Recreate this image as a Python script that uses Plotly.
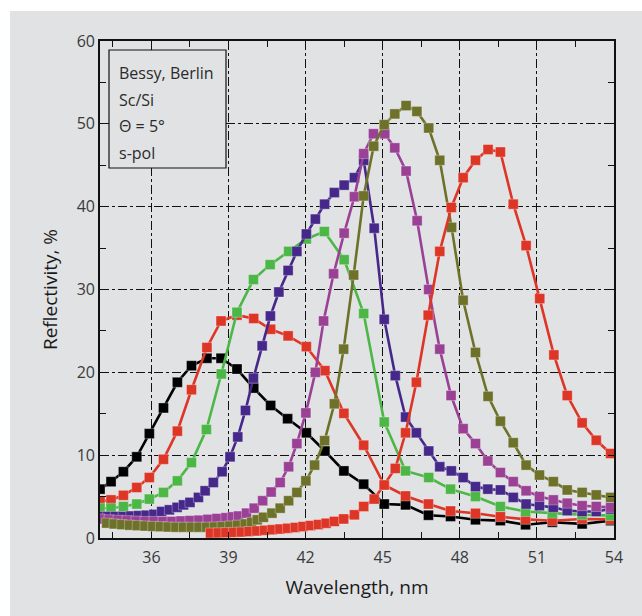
import plotly.graph_objects as go

# ---------------- data ----------------
black_x = [34.0, 34.43, 34.91, 35.43, 35.92, 36.47, 37.01, 37.56, 38.16, 38.71, 39.33, 39.98, 40.64, 41.3,
           42.03, 42.75, 43.49, 44.26, 45.06, 45.89, 46.78, 47.64, 48.61, 49.58, 50.56, 51.6, 52.76, 53.87]
black_y = [5.9, 6.8, 8.0, 9.8, 12.6, 15.7, 18.8, 20.8, 21.7, 21.7, 20.4, 18.1, 16.0, 14.4,
           12.7, 10.5, 8.1, 6.5, 4.1, 4.0, 2.75, 2.6, 2.2, 2.1, 1.6, 1.9, 1.7, 2.1]

red1_x = [34.0, 34.43, 34.91, 35.43, 35.92, 36.47, 37.01, 37.56, 38.16, 38.71, 39.33, 39.98, 40.64, 41.32,
          42.03, 42.75, 43.49, 44.26, 45.06, 45.89, 46.78, 47.64, 48.61, 49.58, 50.56, 51.6, 52.76, 53.87]
red1_y = [4.4, 4.6, 5.15, 6.1, 7.3, 9.5, 12.9, 17.9, 23.0, 26.2, 26.9, 26.5, 25.2, 24.4,
          23.1, 20.2, 15.05, 11.2, 6.4, 5.07, 4.1, 3.26, 2.98, 2.57, 2.25, 2.09, 2.3, 2.25]

green_x = [34.0, 34.43, 34.91, 35.43, 35.92, 36.47, 37.01, 37.56, 38.14, 38.72, 39.33, 39.97, 40.62, 41.34,
           42.03, 42.73, 43.5, 44.26, 45.06, 45.89, 46.79, 47.64, 48.61, 49.58, 50.56, 51.6, 52.76, 53.87]
green_y = [3.6, 3.6, 3.8, 4.1, 4.7, 5.5, 6.9, 9.1, 13.1, 19.8, 27.25, 31.2, 33.0, 34.6,
           36.1, 37.0, 33.6, 27.1, 14.0, 8.1, 7.3, 5.9, 5.0, 3.8, 3.2, 3.0, 2.8, 2.7]

purple_x = [34.0, 34.3, 34.6, 34.9, 35.2, 35.5, 35.8, 36.1, 36.4, 36.7, 37.0, 37.25, 37.5, 37.83, 38.09,
            38.41, 38.75, 39.06, 39.36, 39.66, 39.97, 40.31, 40.63, 40.96, 41.32, 41.66, 42.03, 42.38,
            42.74, 43.12, 43.5, 43.9, 44.26, 44.67, 45.06, 45.49, 45.89, 46.31, 46.79, 47.22, 47.67,
            48.13, 48.61, 49.09, 49.58, 50.08, 50.58, 51.1, 51.64, 52.18, 52.76, 53.31, 53.87]
purple_y = [2.6, 2.6, 2.6, 2.6, 2.65, 2.7, 2.75, 2.85, 3.2, 3.4, 3.7, 4.0, 4.3, 4.9, 5.7,
            6.7, 8.0, 9.8, 12.2, 15.4, 19.3, 23.2, 26.8, 29.7, 32.3, 34.6, 36.7, 38.5,
            40.3, 41.7, 42.6, 43.5, 45.6, 37.4, 26.4, 19.6, 14.6, 12.7, 10.5, 8.6, 8.1,
            7.3, 6.2, 5.9, 5.8, 4.9, 4.1, 3.9, 3.7, 3.3, 3.2, 3.2, 3.5]

magenta_x = [34.0, 34.35, 34.7, 35.05, 35.4, 35.75, 36.1, 36.45, 36.8, 37.15, 37.5, 37.85, 38.2, 38.55,
             38.9, 39.15, 39.39, 39.7, 40.0, 40.33, 40.66, 41.01, 41.34, 41.66, 42.01, 42.38, 42.7,
             43.09, 43.5, 43.9, 44.26, 44.64, 45.08, 45.47, 45.91, 46.34, 46.79, 47.22, 47.66, 48.13,
             48.61, 49.09, 49.58, 50.08, 50.58, 51.1, 51.64, 52.18, 52.76, 53.31, 53.87]
magenta_y = [2.3, 2.2, 2.15, 2.1, 2.05, 2.0, 2.0, 2.0, 2.0, 2.05, 2.1, 2.15, 2.25, 2.35,
             2.45, 2.55, 2.65, 3.0, 3.6, 4.5, 5.55, 6.7, 8.6, 11.4, 15.1, 20.0, 26.2,
             31.9, 36.8, 41.2, 46.4, 48.8, 48.8, 47.1, 44.3, 38.3, 30.0, 22.8, 17.2, 13.2,
             11.4, 9.3, 7.9, 6.8, 5.7, 5.0, 4.6, 4.2, 3.9, 3.8, 3.7]

olive_x = [34.26, 34.55, 34.85, 35.15, 35.45, 35.75, 36.05, 36.35, 36.65, 36.95, 37.25, 37.55, 37.85,
           38.15, 38.45, 38.75, 39.05, 39.35, 39.65, 39.9, 40.12, 40.36, 40.69, 41.01, 41.34, 41.66,
           42.01, 42.35, 42.74, 43.12, 43.48, 43.87, 44.26, 44.65, 45.06, 45.47, 45.91, 46.33, 46.79,
           47.22, 47.68, 48.13, 48.61, 49.1, 49.58, 50.08, 50.58, 51.1, 51.64, 52.18, 52.76, 53.31, 53.87]
olive_y = [1.8, 1.7, 1.62, 1.55, 1.5, 1.45, 1.4, 1.37, 1.33, 1.3, 1.3, 1.3, 1.3,
           1.3, 1.33, 1.38, 1.45, 1.55, 1.7, 1.9, 2.2, 2.5, 3.0, 3.6, 4.5, 5.5,
           6.9, 8.8, 11.75, 16.2, 22.8, 31.75, 41.3, 47.3, 49.9, 51.2, 52.2, 51.5, 49.5,
           45.6, 37.5, 28.7, 22.4, 17.1, 14.1, 11.5, 8.8, 7.6, 6.8, 5.8, 5.5, 5.2, 4.9]

red2_x = [38.3, 38.6, 38.9, 39.2, 39.5, 39.8, 40.1, 40.4, 40.7, 41.0, 41.3, 41.6, 41.9, 42.2, 42.5,
          42.8, 43.12, 43.48, 43.9, 44.26, 44.67, 45.06, 45.49, 45.89, 46.31, 46.77, 47.22, 47.67,
          48.13, 48.61, 49.1, 49.58, 50.08, 50.58, 51.11, 51.66, 52.18, 52.76, 53.31, 53.87]
red2_y = [0.6, 0.62, 0.65, 0.68, 0.72, 0.78, 0.85, 0.93, 1.0, 1.08, 1.17, 1.27, 1.38, 1.5, 1.62,
          1.78, 2.0, 2.3, 2.8, 3.8, 4.7, 6.4, 8.4, 12.7, 18.8, 26.9, 34.6, 39.9,
          43.5, 45.6, 46.9, 46.6, 40.3, 35.3, 28.9, 22.1, 17.2, 13.9, 11.8, 10.2]

x_ticks = [36, 39, 42, 45, 48, 51, 54]
y_ticks = [0, 10, 20, 30, 40, 50, 60]
info_lines = ["Bessy, Berlin", "Sc/Si", "\u0398 = 5\u00b0", "s-pol"]

# ---------------- styling ----------------
RED = "#dd3526"
series = [
    (black_x, black_y, "#000000"),
    (red1_x, red1_y, RED),
    (green_x, green_y, "#4cb747"),
    (purple_x, purple_y, "#46288a"),
    (magenta_x, magenta_y, "#9a4196"),
    (olive_x, olive_y, "#6d7129"),
    (red2_x, red2_y, RED),
]

fig = go.Figure()
for xs, ys, col in series:
    fig.add_trace(go.Scatter(
        x=xs, y=ys, mode="lines+markers",
        line=dict(color=col, width=2.6),
        marker=dict(symbol="square", size=10, color=col,
                    line=dict(color="rgba(255,255,255,0.3)", width=1)),
        showlegend=False, hoverinfo="skip"))

BG = "#e1e2e4"
W, H = 642, 616
L, R, T, B = 100, 28, 41, 78
pw, ph = W - L - R, H - T - B

def px(x):
    return (x - L) / pw

def py(y):
    return (H - B - y) / ph

font_family = "Open Sans, Noto Sans, sans-serif"

axis_common = dict(
    showline=True, linecolor="#111111", linewidth=1.6, mirror="ticks",
    ticks="inside", ticklen=6, tickwidth=1.2, tickcolor="#111111",
    showgrid=True, gridcolor="#111111", gridwidth=1, griddash="dashdot",
    zeroline=False,
    tickfont=dict(family=font_family, size=16, color="#3a3a3a"),
)

fig.update_xaxes(
    range=[34, 54], tickmode="array", tickvals=x_ticks,
    minor=dict(ticks="inside", ticklen=6, tickwidth=1.2, tickcolor="#111111",
               dtick=1.5, tick0=34.5, showgrid=False),
    title=dict(text="Wavelength, nm", font=dict(family=font_family, size=19, color="#1a1a1a"),
               standoff=14),
    ticklabelstandoff=4,
    **axis_common)
fig.update_yaxes(
    range=[0, 60], tickmode="array", tickvals=y_ticks,
    minor=dict(ticks="inside", ticklen=6, tickwidth=1.2, tickcolor="#111111",
               dtick=5, tick0=0, showgrid=False),
    title=dict(text="Reflectivity, %", font=dict(family=font_family, size=19, color="#1a1a1a"),
               standoff=14),
    **axis_common)

shapes = [
    dict(type="rect", xref="paper", yref="paper", x0=px(0), x1=px(10), y0=py(616), y1=py(0),
         fillcolor="white", line=dict(width=0), layer="above"),
    dict(type="rect", xref="paper", yref="paper", x0=px(0), x1=px(642), y0=py(11), y1=py(0),
         fillcolor="white", line=dict(width=0), layer="above"),
    dict(type="rect", xref="paper", yref="paper", x0=px(109), x1=px(226), y0=py(168), y1=py(50),
         fillcolor=BG, line=dict(color="#111111", width=1.2), layer="above"),
]

annotations = []
for i, txt in enumerate(info_lines):
    annotations.append(dict(
        text=txt, xref="paper", yref="paper", x=px(117), y=py(73 + i * 26.5),
        xanchor="left", yanchor="middle", showarrow=False,
        font=dict(family=font_family, size=16, color="#2a2a2a")))

fig.update_layout(
    width=W, height=H,
    margin=dict(l=L, r=R, t=T, b=B, pad=0),
    paper_bgcolor=BG, plot_bgcolor=BG,
    shapes=shapes, annotations=annotations,
)

fig.write_html("out.html")
